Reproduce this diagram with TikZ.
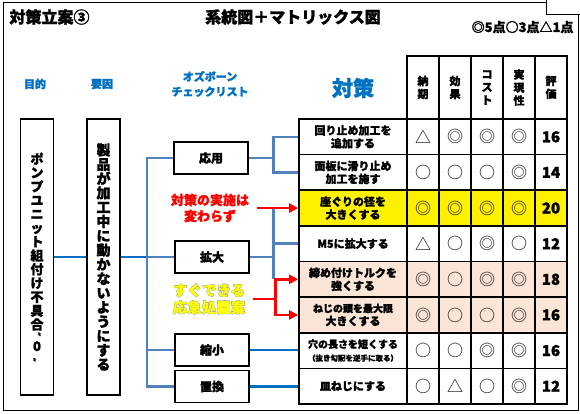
\documentclass[tikz,border=0pt]{standalone}
\usepackage{fontspec}
\setmainfont{Noto Sans CJK JP}[BoldFeatures={FakeBold=1.5}]
\newfontfamily\halofont{Noto Sans CJK JP}[FakeBold=3.5]
\newfontfamily\notefont{Noto Sans CJK JP}[FakeBold=2]
\usetikzlibrary{arrows.meta}

\definecolor{treeblue}{RGB}{79,129,189}
\definecolor{lineblue}{RGB}{0,112,192}
\definecolor{haloblue}{RGB}{30,70,235}
\definecolor{peach}{RGB}{251,229,214}
\definecolor{markred}{RGB}{255,0,0}
\definecolor{noteyellow}{RGB}{255,255,0}
\newcommand{\jfs}[2]{\fontsize{#1}{#2}\selectfont}

\begin{document}
\begin{tikzpicture}[x=1pt,y=-1pt,
  checkbox/.style={draw,line width=1.2pt,fill=white,font=\bfseries\jfs{12}{14}},
  vbox/.style={checkbox,minimum width=33pt,minimum height=276pt,align=center,inner sep=0pt},
  measurebox/.style={draw,line width=1.6pt,minimum width=108pt,minimum height=35.6pt,align=center,inner sep=0pt,font=\bfseries\jfs{11}{13}},
  ratebox/.style={draw,line width=1.6pt,minimum width=32pt,minimum height=35.6pt,inner sep=0pt,font=\jfs{16}{16}},
  scorebox/.style={ratebox,font=\bfseries\jfs{15}{15}},
  headbox/.style={draw,line width=1.6pt,minimum width=32pt,minimum height=63pt,align=center,inner sep=0pt,font=\bfseries\jfs{11}{13}},
  treeline/.style={treeblue,line width=2.4pt},
  linkline/.style={lineblue,line width=2.4pt},
  redline/.style={markred,line width=2.6pt},
  redarrow/.style={redline,-{Triangle[length=9pt,width=9pt]}},
  bluelabel/.style={lineblue,font=\bfseries\jfs{11}{15},align=center}]
  \useasboundingbox (0,0) rectangle (580,414);
  \draw[line width=1pt] (3,3) rectangle (578,410);
  \draw[line width=1pt,fill=white] (546,-2) rectangle (582,15);

  % titles
  \node[anchor=west,font=\bfseries\jfs{16}{16}] (title) at (6,17) {対策立案③};
  \node[font=\bfseries\jfs{16}{16}] (subtitle) at (293,17) {系統図＋マトリックス図};
  \node[anchor=east,font=\bfseries\jfs{13}{13}] (legend) at (577,27) {◎5点○3点△1点};

  \node[bluelabel] (lbpurpose) at (35,84) {目的};
  \node[bluelabel] (lbfactor) at (102,84) {要因};
  \node[bluelabel] (lbcheck) at (210,84) {オズボーン\\チェックリスト};
  \node[bluelabel,font=\bfseries\jfs{21}{21}] (lbmeasure) at (353,88) {対策};

  % tree
  \node[vbox,font=\bfseries\jfs{13}{13.8}] (purpose) at (37,257)
    {ポ\\ン\\プ\\ユ\\ニ\\ッ\\ト\\組\\付\\け\\不\\具\\合\\[-4pt]{\jfs{8}{8}〝}\\[-2pt]0\\[-4pt]{\jfs{8}{8}〟}};
  \node[vbox,font=\bfseries\jfs{14}{14.3}] (factor) at (103.5,257)
    {製\\品\\が\\加\\工\\中\\に\\動\\か\\な\\い\\よ\\う\\に\\す\\る};
  \node[checkbox,minimum width=74pt,minimum height=32pt] (oyo) at (211,158) {応用};
  \node[checkbox,minimum width=74pt,minimum height=32pt] (kakudai) at (212,257) {拡大};
  \node[checkbox,minimum width=74pt,minimum height=32pt] (shukusho) at (212,350) {縮小};
  \node[checkbox,minimum width=74pt,minimum height=32pt] (chikan) at (212,386.5) {置換};

  % matrix
  \foreach \j/\t in {1/{納\\期},2/{効\\果},3/{コ\\ス\\ト},4/{実\\現\\性},5/{評\\価}}
    \node[headbox] (h\j) at ({391+32*\j},87.5) {\t};
  \foreach \i/\t/\f/\a/\b/\c/\d/\s in {
      1/{回り止め加工を\\追加する}/white/△/◎/◎/◎/16,
      2/{面板に滑り止め\\加工を施す}/white/○/○/○/◎/14,
      3/{座ぐりの径を\\大きくする}/yellow/◎/◎/◎/◎/20,
      4/{M5に拡大する}/white/△/○/◎/○/12,
      5/{締め付けトルクを\\強くする}/peach/◎/○/◎/◎/18,
      6/{\jfs{10}{13}ねじの頭を最大限\\大きくする}/peach/◎/○/○/◎/16,
      7/{\jfs{10}{12}穴の長さを短くする\\{\jfs{7.5}{10}（抜き勾配を逆手に取る）}}/white/○/○/◎/◎/16,
      8/{皿ねじにする}/white/○/△/○/◎/12} {
    \node[measurebox,fill=\f] (r\i) at (353,{119+35.625*(\i-0.5)}) {\t};
    \node[ratebox,fill=\f] (r\i-1) at (423,{119+35.625*(\i-0.5)}) {\a};
    \node[ratebox,fill=\f] (r\i-2) at (455,{119+35.625*(\i-0.5)}) {\b};
    \node[ratebox,fill=\f] (r\i-3) at (487,{119+35.625*(\i-0.5)}) {\c};
    \node[ratebox,fill=\f] (r\i-4) at (519,{119+35.625*(\i-0.5)}) {\d};
    \node[scorebox,fill=\f] (r\i-5) at (551,{119+35.625*(\i-0.5)}) {\s};
  }

  % connectors
  \coordinate (trunk) at (147,257);
  \draw[linkline] (purpose.east) -- (factor.west);
  \draw[linkline] (factor.east) -- (trunk);
  \draw[treeline] (oyo.west) -| (trunk) |- (chikan.west);
  \draw[treeline] (trunk) -- (kakudai.west);
  \draw[treeline] (trunk) |- (shukusho.west);
  \draw[treeline] (oyo.east) -- ++(25,0) coordinate (ob) |- (r1.west);
  \draw[treeline] (ob) |- (r2.west);
  \draw[treeline] (kakudai.east) -- ++(24,0) coordinate (kb);
  \draw[treeline] (kb |- r3.west) -- (kb |- r5.west);
  \draw[treeline] (kb) |- (r4.west);
  \draw[linkline] (shukusho.east) -- (shukusho.east -| r7.west);
  \draw[linkline] (chikan.east) -- (chikan.east -| r8.west);

  % notes
  \node[markred,font=\bfseries\jfs{13}{16},align=center] (note1) at (210,208) {対策の実施は\\変わらず};
  \node[haloblue,font=\halofont\bfseries\jfs{14.5}{17},align=center] (halo) at (209,299) {すぐできる\\応急処置案};
  \node[noteyellow,font=\notefont\bfseries\jfs{14.5}{17},align=center] (note2) at (209,299) {すぐできる\\応急処置案};

  \path (note1.east) ++(4,0) coordinate (n1);
  \draw[redarrow] (n1 |- r3.west) -- (r3.west);
  \path (note2.east) ++(4,0) coordinate (n2);
  \path (kb) ++(2,0) coordinate (rb);
  \draw[redarrow] (n2) -| (rb |- r5.west) -- (r5.west);
  \draw[redarrow] (n2 -| rb) |- (r6.west);
\end{tikzpicture}
\end{document}
